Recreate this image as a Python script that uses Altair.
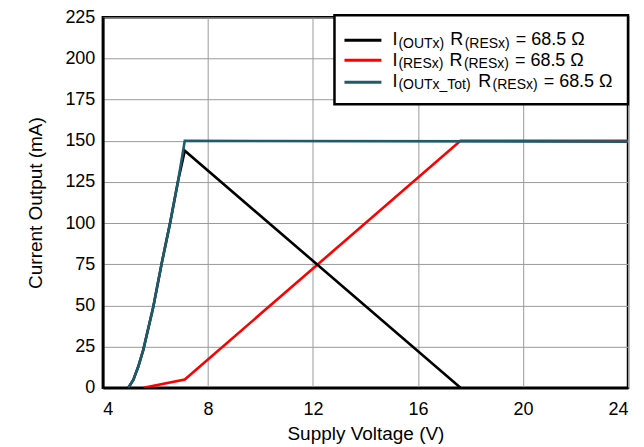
import altair as alt
import pandas as pd

# ---- data ----
tot_v = [4.97, 5.16, 5.35, 5.54, 5.92, 6.24, 6.56, 6.87, 7.12, 24.0]
tot_i = [0, 4.8, 12.9, 23, 49, 75.5, 100, 126, 150, 149.5]

out_v = [4.97, 5.16, 5.35, 5.54, 5.92, 6.24, 6.56, 6.87, 7.12, 17.62]
out_i = [0, 4.8, 12.9, 23, 49, 75.5, 100, 126, 144, 0]

res_v = [5.55, 7.12, 17.62, 24.0]
res_i = [0, 5, 150, 150]

x_ticks = [4, 8, 12, 16, 20, 24]
y_ticks = [0, 25, 50, 75, 100, 125, 150, 175, 200, 225]

leg_main = ["I", "I", "I"]
leg_sub1 = ["(OUTx)", "(RESx)", "(OUTx_Tot)"]
leg_r = "R"
leg_sub2 = "(RESx)"
leg_tail = "= 68.5 \u03a9"
colors = ["#000000", "#ff0000", "#1e5b6b"]

FONT = "Liberation Sans"

# Arial / Liberation Sans advance widths (em units) for text layout of the legend
W = {"I": .278, "R": .722, "(": .333, ")": .333, "O": .778, "U": .722, "T": .611,
     "x": .5, "E": .667, "S": .667, "_": .556, "o": .556, "t": .278}


def text_w(s, size):
    return sum(W.get(c, .556) for c in s) * size


xs = alt.Scale(domain=[4, 24], nice=False)
ys = alt.Scale(domain=[0, 225], nice=False)


def line(v, i, color):
    df = pd.DataFrame({"v": v, "i": i})
    return alt.Chart(df).mark_line(color=color, strokeWidth=2.6, clip=True).encode(
        x=alt.X("v:Q", scale=xs, axis=alt.Axis(values=x_ticks, title="Supply Voltage (V)",
                                                  labelPadding=13, titlePadding=6)),
        y=alt.Y("i:Q", scale=ys, axis=alt.Axis(values=y_ticks, title="Current Output (mA)",
                                                  labelPadding=8, titlePadding=19)),
    )


layers = [line(res_v, res_i, colors[1]), line(out_v, out_i, colors[0]), line(tot_v, tot_i, colors[2])]

one = pd.DataFrame({"d": [0]})

# legend box
layers.append(
    alt.Chart(one).mark_rect(fill="white", stroke="black", strokeWidth=2.5).encode(
        x=alt.value(232), x2=alt.value(526), y=alt.value(-2), y2=alt.value(87)
    )
)

sym_y = [23, 43, 65]
main_base = [28, 48.7, 69.7]
MAIN, SUB = 18, 14
gaps = [1, 6, 1.5, 6, 0]

for r in range(3):
    layers.append(
        alt.Chart(one).mark_rule(color=colors[r], strokeWidth=3).encode(
            x=alt.value(242), x2=alt.value(279), y=alt.value(sym_y[r])
        )
    )
    pieces = [
        (leg_main[r], MAIN, 0),
        (leg_sub1[r], SUB, 2.5),
        (leg_r, MAIN, 0),
        (leg_sub2, SUB, 2.5),
        (leg_tail, MAIN, 0),
    ]
    xpos = 290
    for k, (txt, size, dy) in enumerate(pieces):
        layers.append(
            alt.Chart(one).mark_text(
                text=txt, font=FONT, fontSize=size, align="left",
                baseline="alphabetic", color="black"
            ).encode(x=alt.value(xpos), y=alt.value(main_base[r] + dy))
        )
        xpos += text_w(txt, size) + gaps[k]

chart = alt.layer(*layers).properties(
    width=526, height=371,
    autosize=alt.AutoSizeParams(type="none"),
    padding={"left": 95, "top": 9, "right": 8, "bottom": 59},
    background="white",
).configure_view(
    stroke="black", strokeWidth=2.5
).configure_axis(
    labelFont=FONT, labelFontSize=18, labelColor="black",
    titleFont=FONT, titleFontSize=19, titleFontWeight="normal", titleColor="black",
    tickSize=0, domainColor="black", domainWidth=2.5,
    gridColor="#9a9a9a", gridWidth=1, gridOpacity=1,
)

chart.save("out.html", embed_options={"renderer": "svg", "actions": False})
